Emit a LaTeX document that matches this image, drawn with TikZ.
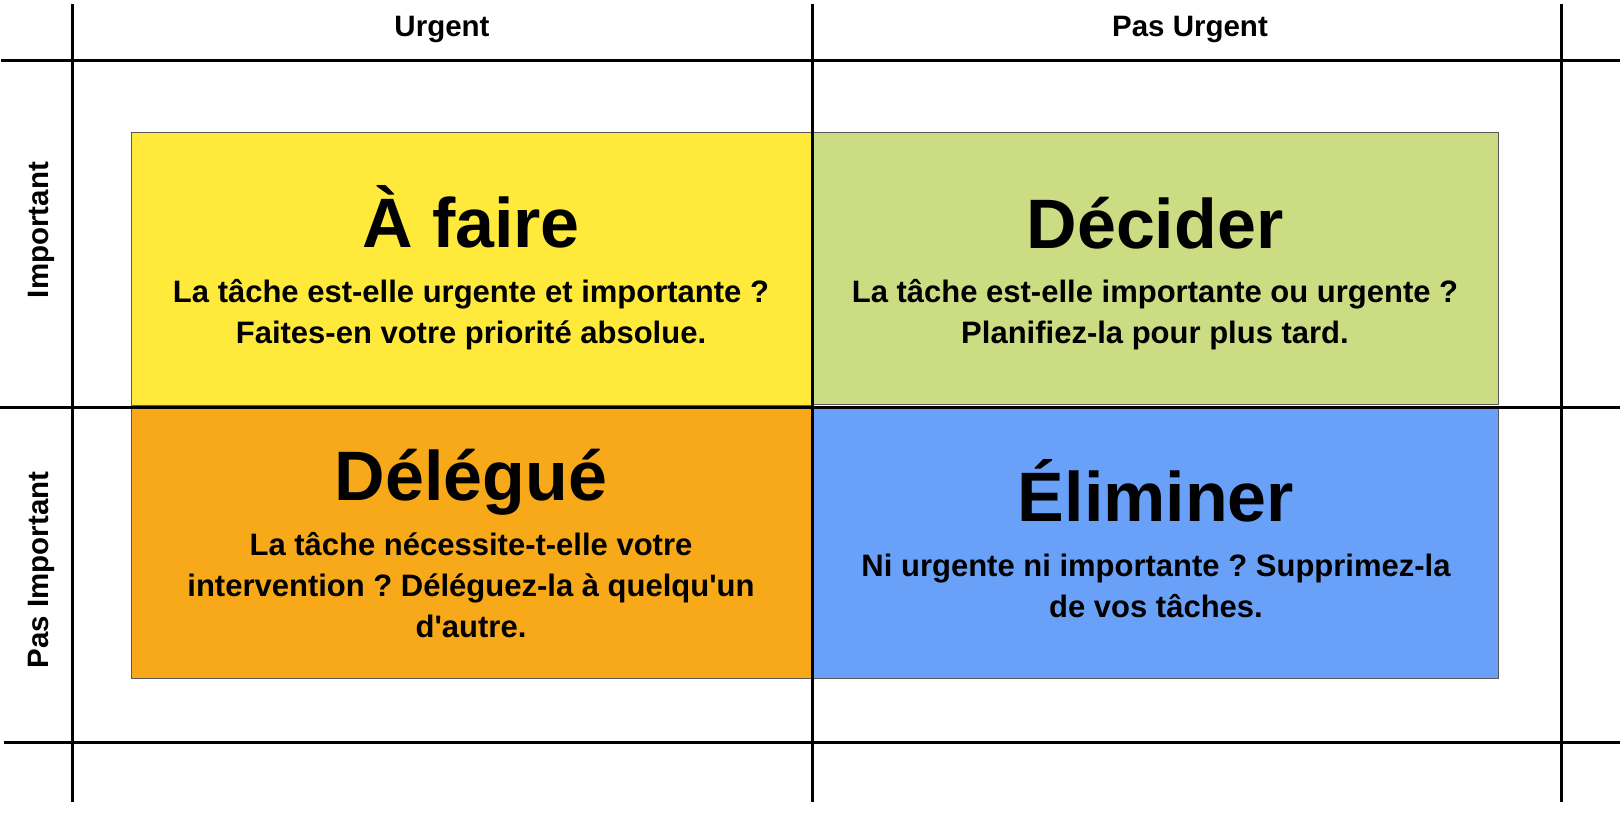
\documentclass[tikz,border=0pt]{standalone}
\usepackage{fontspec}
\setmainfont{Liberation Sans}[Ligatures=TeXOff]
\frenchspacing
\definecolor{qyellow}{HTML}{FFEA3B}
\definecolor{qgreen}{HTML}{CBDC82}
\definecolor{qorange}{HTML}{F8A91A}
\definecolor{qblue}{HTML}{6AA1F8}
\newcommand{\sublines}[1]{\parbox[t]{660pt}{\centering #1}}
\begin{document}
\begin{tikzpicture}[x=1pt,y=-1pt,
  quad/.style={draw=black!65, line width=1pt, inner sep=0pt, outer sep=0pt, anchor=north west},
  gridline/.style={line width=3pt, black},
  head/.style={font=\bfseries\fontsize{70}{84}\selectfont, anchor=base, inner sep=0pt},
  sub/.style={font=\bfseries\fontsize{31}{41}\selectfont, anchor=base, inner sep=0pt},
  axis/.style={font=\bfseries\fontsize{29.5}{35}\selectfont, inner sep=0pt}]
\useasboundingbox (0,0) rectangle (1620,820);
\fill[white] (0,0) rectangle (1620,820);
% quadrants
\node[quad, fill=qyellow, minimum width=680pt, minimum height=273pt] (qa) at (131,132) {};
\node[quad, fill=qgreen,  minimum width=685pt, minimum height=272pt] (qb) at (813,132) {};
\node[quad, fill=qorange, minimum width=680pt, minimum height=272pt] (qc) at (131,406) {};
\node[quad, fill=qblue,   minimum width=685pt, minimum height=272pt] (qd) at (813,406) {};
% grid
\draw[gridline] (72,4) -- (72,802);
\draw[gridline] (812,4) -- (812,802);
\draw[gridline] (1561,4) -- (1561,802);
\draw[gridline] (1,60) -- (1620,60);
\draw[gridline] (0,407) -- (1620,407);
\draw[gridline] (4,742) -- (1620,742);
% axis labels
\node[axis, anchor=base] (urg) at (442,36.7) {Urgent};
\node[axis, anchor=base] (purg) at (1190,36.7) {Pas Urgent};
\node[axis, rotate=90] (imp) at (41,230) {Important};
\node[axis, rotate=90] (pimp) at (41,570) {Pas Important};
% headings
\node[head] (ha) at (471,247) {À faire};
\node[head] (hb) at (1155,248) {Décider};
\node[head] (hc) at (471,500) {Délégué};
\node[head] (hd) at (1156,521) {Éliminer};
% subtitles
\node[sub] (sa) at (471,302) {\sublines{La tâche est-elle urgente et importante ?\\Faites-en votre priorité absolue.}};
\node[sub] (sb) at (1155,302) {\sublines{La tâche est-elle importante ou urgente ?\\Planifiez-la pour plus tard.}};
\node[sub] (sc) at (471,555) {\sublines{La tâche nécessite-t-elle votre\\intervention ? Déléguez-la à quelqu'un\\d'autre.}};
\node[sub] (sd) at (1156,576) {\sublines{Ni urgente ni importante ? Supprimez-la\\de vos tâches.}};
\end{tikzpicture}
\end{document}
